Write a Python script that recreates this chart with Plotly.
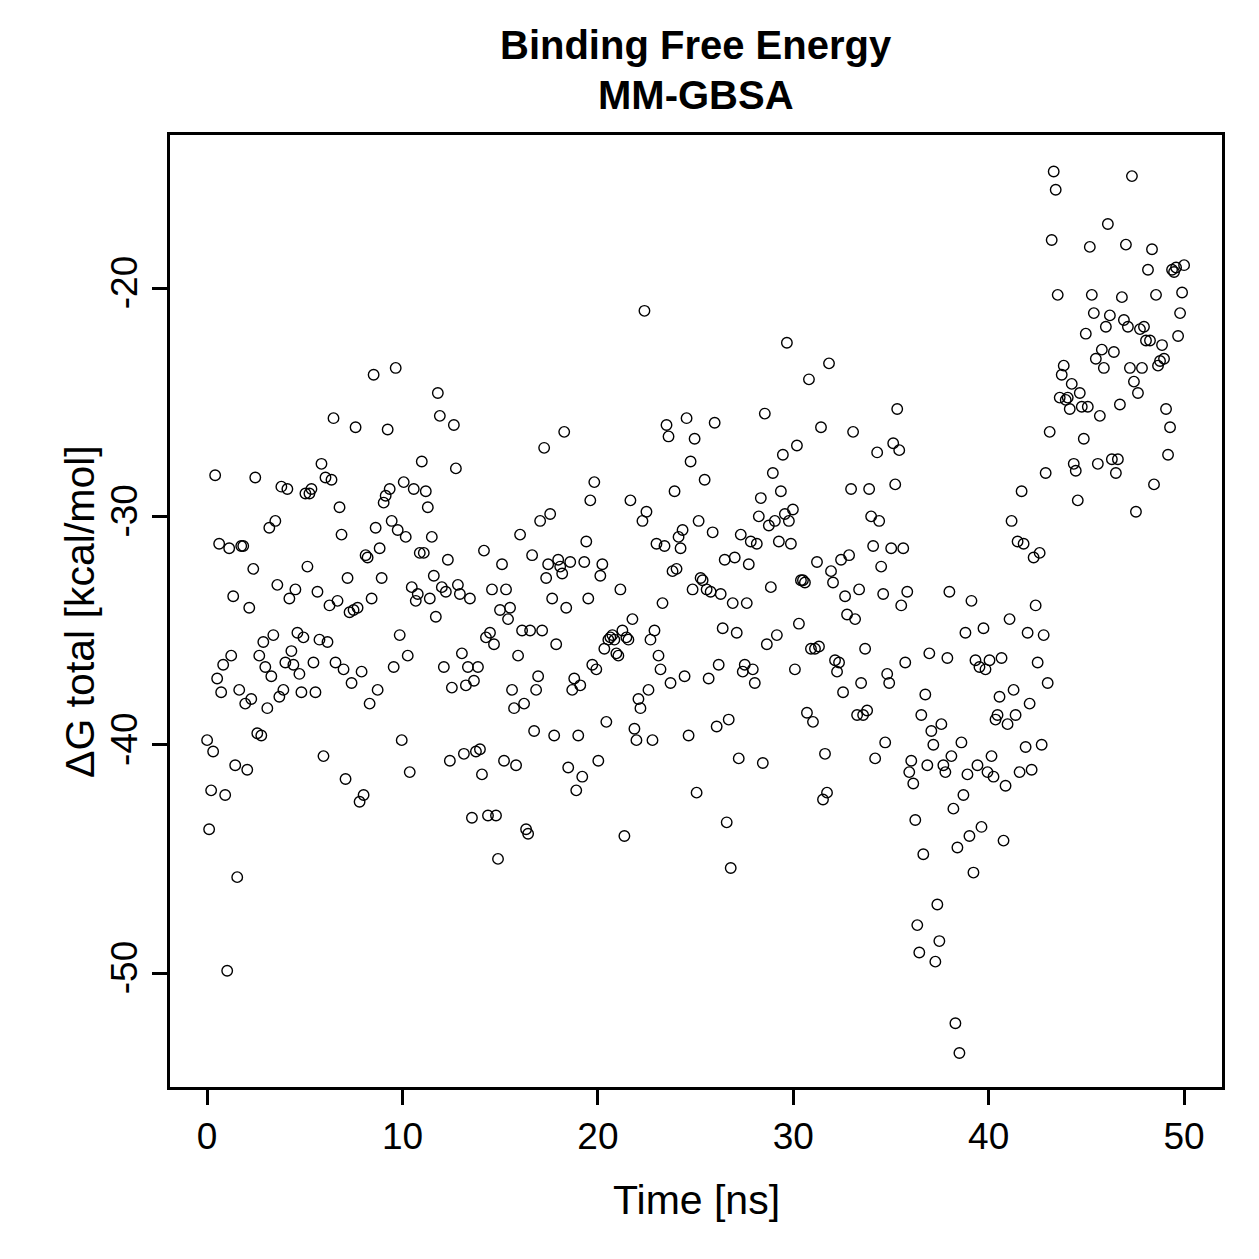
import numpy as np
import plotly.graph_objects as go

# Delta G total [kcal/mol] in time order
dg_total = [
    -39.8, -43.7, -42.0, -40.3, -28.2, -37.1, -31.2, -37.7, -36.5, -42.2,
    -49.9, -31.4, -36.1, -33.5, -40.9, -45.8, -37.6, -31.3, -31.3, -38.2,
    -41.1, -34.0, -38.0, -32.3, -28.3, -39.5, -36.1, -39.6, -35.5, -36.6,
    -38.4, -30.5, -37.0, -35.2, -30.2, -33.0, -37.9, -28.7, -37.6, -36.4,
    -28.8, -33.6, -35.9, -36.5, -33.2, -35.1, -36.9, -37.7, -35.3, -29.0,
    -32.2, -29.0, -28.8, -36.4, -37.7, -33.3, -35.4, -27.7, -40.5, -28.3,
    -35.5, -33.9, -28.4, -25.7, -36.4, -33.7, -29.6, -30.8, -36.7, -41.5,
    -32.7, -34.2, -37.3, -34.1, -26.1, -34.0, -42.5, -36.8, -42.2, -31.7,
    -31.8, -38.2, -33.6, -23.8, -30.5, -37.6, -31.4, -32.7, -29.4, -29.1,
    -26.2, -28.8, -30.2, -36.6, -23.5, -30.6, -35.2, -39.8, -28.5, -30.9,
    -36.1, -41.2, -33.1, -28.8, -33.7, -33.4, -31.6, -27.6, -31.6, -28.9,
    -29.6, -33.6, -30.9, -32.6, -34.4, -24.6, -25.6, -33.1, -36.6, -33.3,
    -31.9, -40.7, -37.5, -26.0, -27.9, -33.0, -33.4, -36.0, -40.4, -37.4,
    -36.6, -33.6, -43.2, -37.2, -40.3, -36.6, -40.2, -41.3, -31.5, -35.3,
    -43.1, -35.1, -33.2, -35.6, -43.1, -45.0, -34.1, -32.1, -40.7, -33.2,
    -34.5, -34.0, -37.6, -38.4, -40.9, -36.1, -30.8, -35.0, -38.2, -43.7,
    -43.9, -35.0, -31.7, -39.4, -37.6, -37.0, -30.2, -35.0, -27.0, -32.7,
    -32.1, -29.9, -33.6, -39.6, -35.6, -31.9, -32.2, -32.5, -26.3, -34.0,
    -41.0, -32.0, -37.6, -37.1, -42.0, -39.6, -37.4, -41.4, -32.0, -31.1,
    -33.6, -29.3, -36.5, -28.5, -36.7, -40.7, -32.6, -32.1, -35.8, -39.0,
    -35.4, -35.3, -35.2, -35.4, -36.0, -36.1, -33.2, -35.0, -44.0, -35.3,
    -35.4, -29.3, -34.5, -39.3, -39.8, -38.0, -38.4, -30.2, -21.0, -29.8,
    -37.6, -35.4, -39.8, -35.0, -31.2, -36.1, -36.7, -33.8, -31.3, -26.0,
    -26.5, -37.3, -32.4, -28.9, -32.3, -30.9, -31.4, -30.6, -37.0, -25.7,
    -39.6, -27.6, -33.2, -26.6, -42.1, -30.2, -32.7, -32.8, -28.4, -33.2,
    -37.1, -33.3, -30.7, -25.9, -39.2, -36.5, -33.4, -34.9, -31.9, -43.4,
    -38.9, -45.4, -33.8, -31.8, -35.1, -40.6, -30.8, -36.8, -36.5, -33.8,
    -32.1, -31.1, -36.7, -37.3, -31.2, -30.0, -29.2, -40.8, -25.5, -35.6,
    -30.4, -33.1, -28.1, -30.2, -35.2, -31.1, -28.9, -27.3, -29.9, -22.4,
    -30.2, -31.2, -29.7, -36.7, -26.9, -34.7, -32.8, -32.8, -32.9, -38.6,
    -24.0, -35.8, -39.0, -35.8, -32.0, -35.7, -26.1, -42.4, -40.4, -42.1,
    -23.3, -32.4, -32.9, -36.3, -36.8, -36.4, -31.9, -37.7, -33.5, -34.3,
    -31.7, -28.8, -26.3, -34.5, -38.7, -33.2, -37.3, -38.7, -35.8, -38.5,
    -28.8, -30.0, -31.3, -40.6, -27.2, -30.2, -32.2, -33.4, -39.9, -36.9,
    -37.3, -31.4, -26.8, -28.6, -25.3, -27.1, -33.9, -31.4, -36.4, -33.3,
    -41.2, -40.7, -41.7, -43.3, -47.9, -49.1, -38.7, -44.8, -37.8, -40.9,
    -36.0, -39.4, -40.0, -49.5, -47.0, -48.6, -39.1, -40.9, -41.2, -36.2,
    -33.3, -40.5, -42.8, -52.2, -44.5, -53.5, -39.9, -42.2, -35.1, -41.3,
    -44.0, -33.7, -45.6, -36.3, -40.9, -36.6, -43.6, -34.9, -36.7, -41.2,
    -36.3, -40.5, -41.4, -38.9, -38.7, -37.9, -36.2, -44.2, -41.8, -39.1,
    -34.5, -30.2, -37.6, -38.7, -31.1, -41.2, -28.9, -31.2, -40.1, -35.1,
    -38.2, -41.1, -31.8, -33.9, -36.4, -31.6, -40.0, -35.2, -28.1, -37.3,
    -26.3, -17.9, -14.9, -15.7, -20.3, -24.8, -23.8, -23.4, -24.9, -24.8,
    -25.3, -24.2, -27.7, -28.0, -29.3, -24.6, -25.2, -26.6, -22.0, -25.2,
    -18.2, -20.3, -21.1, -23.1, -27.7, -25.6, -22.7, -23.5, -21.7, -17.2,
    -21.2, -27.5, -22.8, -28.1, -27.5, -25.1, -20.4, -21.4, -18.1, -21.7,
    -23.5, -15.1, -24.1, -29.8, -24.6, -21.8, -23.5, -21.7, -22.3, -19.2,
    -22.3, -18.3, -28.6, -20.3, -23.4, -23.2, -22.5, -23.1, -25.3, -27.3,
    -26.1, -19.2, -19.3, -19.1, -22.1, -21.1, -20.2, -19.0,
]
# sampled snapshots spread evenly over the 0-50 ns trajectory
time_ns = np.linspace(0, 50, len(dg_total))

x_ticks = [0, 10, 20, 30, 40, 50]
y_ticks = [-50, -40, -30, -20]
y_ticklabels = ["-50", "-40", "-30", "-20"]

FONT = "Liberation Sans, Arial, Helvetica, sans-serif"

fig = go.Figure()
fig.add_trace(go.Scatter(
    x=time_ns, y=dg_total, mode="markers",
    marker=dict(symbol="circle-open", size=10.5, color="black",
                line=dict(color="black", width=1.4)),
    showlegend=False,
))

axis_common = dict(
    showline=True, linecolor="black", linewidth=2.5, mirror=True,
    ticks="outside", ticklen=15, tickwidth=2.5, tickcolor="black",
    showgrid=False, zeroline=False,
    tickfont=dict(family=FONT, size=37, color="black"),
)

fig.update_layout(
    width=1259, height=1259,
    margin=dict(l=170, r=37, t=135, b=172),
    plot_bgcolor="white", paper_bgcolor="white",
    xaxis=dict(range=[-1.9, 51.94], tickvals=x_ticks, **axis_common),
    yaxis=dict(range=[-54.99, -13.3], tickvals=y_ticks, ticktext=y_ticklabels,
               tickangle=-90, **axis_common),
    annotations=[
        dict(text="<b>Binding Free Energy</b>", x=0.5, y=1.0945, xref="paper", yref="paper",
             showarrow=False, xanchor="center", yanchor="middle",
             font=dict(family=FONT, size=40, color="black")),
        dict(text="<b>MM-GBSA</b>", x=0.5, y=1.042, xref="paper", yref="paper",
             showarrow=False, xanchor="center", yanchor="middle",
             font=dict(family=FONT, size=40, color="black")),
        dict(text="Time [ns]", x=0.5, y=-0.1187, xref="paper", yref="paper",
             showarrow=False, xanchor="center", yanchor="middle",
             font=dict(family=FONT, size=41, color="black")),
        dict(text="ΔG total [kcal/mol]", x=-0.0856, y=0.5, xref="paper", yref="paper",
             showarrow=False, xanchor="center", yanchor="middle", textangle=-90,
             font=dict(family=FONT, size=41, color="black")),
    ],
)

fig.write_html("out.html")
